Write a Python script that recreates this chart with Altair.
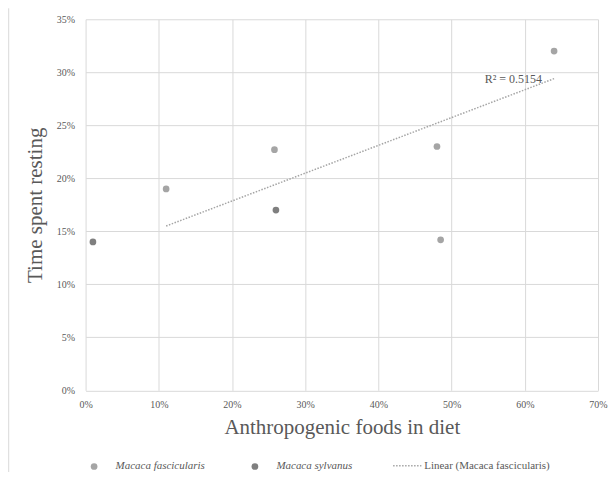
import altair as alt
import pandas as pd

# ---- data (percent values) ----
fasc_x = [11.0, 25.8, 48.0, 48.5, 64.0]
fasc_y = [19.0, 22.7, 23.0, 14.2, 32.0]
sylv_x = [1.0, 26.0]
sylv_y = [14.0, 17.0]

species = ["Macaca fascicularis", "Macaca sylvanus"]
species_colors = ["#a5a5a5", "#7f7f7f"]

trend_x = [11.0, 64.0]
trend_y = [15.5, 29.4]
trend_name = "Linear (Macaca fascicularis)"

r2_text = "R² = 0.5154"
r2_x = 62.35
r2_y = 29.0

x_ticks = [0, 10, 20, 30, 40, 50, 60, 70]
y_ticks = [0, 5, 10, 15, 20, 25, 30, 35]

points = pd.DataFrame({
    "x": fasc_x + sylv_x,
    "y": fasc_y + sylv_y,
    "species": [species[0]] * len(fasc_x) + [species[1]] * len(sylv_x),
})
trend = pd.DataFrame({"x": trend_x, "y": trend_y, "series": [trend_name] * len(trend_x)})
label = pd.DataFrame({"x": [r2_x], "y": [r2_y], "t": [r2_text]})

FONT = "Liberation Serif"
TXT = "#595959"
GRID = "#d9d9d9"

xscale = alt.Scale(domain=[0, 70], nice=False)
yscale = alt.Scale(domain=[0, 35], nice=False)

xaxis = alt.Axis(values=x_ticks, labelExpr="datum.value + '%'", title="Anthropogenic foods in diet",
                 titleFont=FONT, titleFontSize=21, titleFontWeight="normal", titleColor=TXT,
                 titleBaseline="alphabetic", titleY=43.5,
                 labelFont=FONT, labelFontSize=10, labelColor=TXT, labelPadding=9,
                 labelFlush=False, labelOverlap=False,
                 grid=True, gridColor=GRID, domain=False, ticks=False)
yaxis = alt.Axis(values=y_ticks, labelExpr="datum.value + '%'", title="Time spent resting",
                 titleFont=FONT, titleFontSize=21, titleFontWeight="normal", titleColor=TXT,
                 titleAngle=270, titleBaseline="alphabetic", titleX=-44, titleY=185.75,
                 titleAlign="center",
                 labelFont=FONT, labelFontSize=10, labelColor=TXT, labelPadding=11,
                 labelFlush=False, labelOverlap=False,
                 grid=True, gridColor=GRID, domain=False, ticks=False)

pts = alt.Chart(points).mark_circle(size=45, opacity=1).encode(
    x=alt.X("x:Q", scale=xscale, axis=xaxis),
    y=alt.Y("y:Q", scale=yscale, axis=yaxis),
    color=alt.Color("species:N", scale=alt.Scale(domain=species, range=species_colors),
                    legend=alt.Legend(orient="none", legendX=3, legendY=442, direction="horizontal",
                                      title=None, labelFont=FONT, labelFontStyle="italic",
                                      labelFontSize=11, labelColor=TXT, symbolType="circle",
                                      symbolSize=45, symbolStrokeWidth=0, labelOffset=16,
                                      columnPadding=44)),
)

line = alt.Chart(trend).mark_line(color="#a5a5a5", strokeWidth=1.5).encode(
    x=alt.X("x:Q", scale=xscale),
    y=alt.Y("y:Q", scale=yscale),
    strokeDash=alt.StrokeDash("series:N", scale=alt.Scale(domain=[trend_name], range=[[1.5, 1.5]]),
                              legend=alt.Legend(orient="none", legendX=307, legendY=432,
                                                title=None, labelFont=FONT, labelFontSize=11,
                                                labelColor=TXT, symbolType="stroke",
                                                symbolSize=800, symbolStrokeColor="#a5a5a5",
                                                symbolStrokeWidth=1.5, labelOffset=2)),
)

txt = alt.Chart(label).mark_text(font=FONT, fontSize=12, color=TXT, align="right",
                                 baseline="alphabetic").encode(
    x=alt.X("x:Q", scale=xscale),
    y=alt.Y("y:Q", scale=yscale),
    text="t:N",
)

frame = alt.Chart(label).mark_rule(color=GRID, strokeWidth=1).encode(
    x=alt.value(-77), y=alt.value(-11), y2=alt.value(480)
)

chart = alt.layer(frame, line, pts, txt).properties(
    width=513, height=371.5,
    autosize=alt.AutoSizeParams(type="none"),
    padding={"left": 77.7, "top": 11, "right": 10, "bottom": 81.5},
).configure(font=FONT).configure_view(strokeWidth=0)

chart.save("out.html", embed_options={"renderer": "svg", "actions": False})
